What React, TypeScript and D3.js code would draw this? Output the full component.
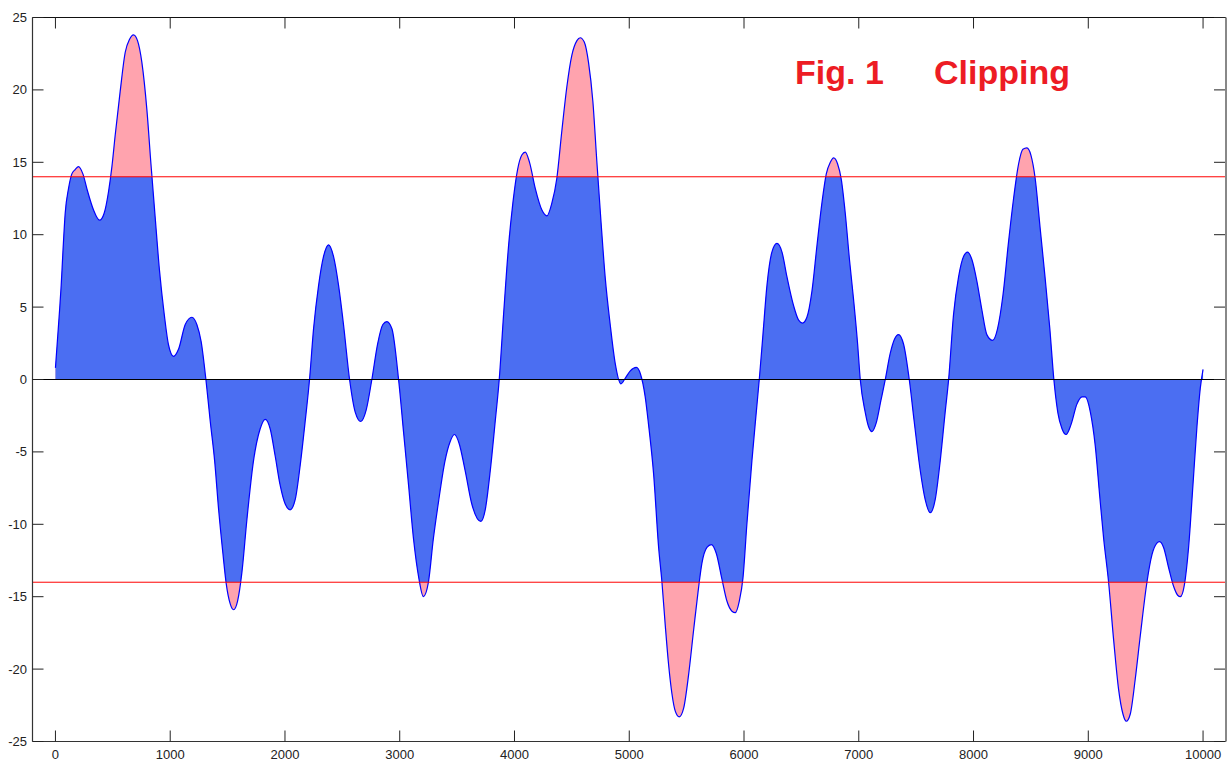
import React from "react";
import * as d3 from "d3";

// Sample positions and signal values of the waveform
const sampleX = [
  0, 18, 36, 50, 65, 85, 114, 143, 172, 201, 239, 280, 332, 384, 425, 463, 492, 521, 564, 608,
  646, 680, 715, 753, 797, 832, 869, 907, 948, 985, 1029, 1073, 1131, 1189, 1232, 1270, 1311,
  1349, 1387, 1422, 1459, 1488, 1523, 1552, 1587, 1625, 1668, 1726, 1784, 1828, 1871, 1915,
  1958, 2002, 2045, 2089, 2133, 2176, 2214, 2249, 2293, 2336, 2380, 2423, 2467, 2510, 2563,
  2612, 2661, 2708, 2757, 2807, 2853, 2888, 2932, 2990, 3033, 3077, 3120, 3166, 3206, 3250,
  3293, 3337, 3395, 3439, 3476, 3517, 3570, 3628, 3707, 3745, 3789, 3832, 3867, 3905, 3948,
  3986, 4027, 4064, 4094, 4131, 4181, 4239, 4282, 4326, 4369, 4413, 4456, 4500, 4544, 4573,
  4608, 4645, 4683, 4718, 4753, 4791, 4834, 4878, 4928, 4966, 5009, 5062, 5097, 5139, 5168,
  5212, 5256, 5285, 5314, 5343, 5372, 5401, 5436, 5474, 5517, 5561, 5599, 5633, 5677, 5715,
  5758, 5808, 5851, 5895, 5924, 5959, 5991, 6025, 6069, 6107, 6133, 6165, 6200, 6243, 6287,
  6331, 6374, 6432, 6476, 6510, 6548, 6592, 6635, 6679, 6717, 6752, 6781, 6815, 6848, 6882,
  6920, 6955, 6990, 7013, 7056, 7085, 7114, 7152, 7193, 7231, 7274, 7312, 7346, 7390, 7440,
  7483, 7536, 7579, 7623, 7666, 7710, 7753, 7783, 7826, 7870, 7913, 7948, 7985, 8029, 8073,
  8116, 8166, 8209, 8256, 8305, 8349, 8393, 8430, 8465, 8500, 8537, 8580, 8624, 8665, 8700,
  8735, 8771, 8806, 8850, 8901, 8945, 8974, 9018, 9061, 9099, 9134, 9177, 9221, 9264, 9302,
  9331, 9366, 9409, 9453, 9511, 9555, 9598, 9621, 9656, 9700, 9744, 9779, 9802, 9837, 9874,
  9912, 9947, 9976, 10000,
];

const sampleY = [
  0.8, 2.8, 4.8, 6.5, 8.8, 11.5, 13.2, 14.2, 14.5, 14.7, 14.2, 13.0, 11.7, 11.0, 11.5, 13.0, 14.7, 16.9, 19.9, 22.6,
  23.5, 23.8, 23.4, 21.9, 18.6, 14.9, 11.2, 7.5, 4.5, 2.4, 1.6, 2.1, 3.8, 4.3, 3.8, 2.6, 0,
  -2.9, -5.6, -9.0, -12.0, -14.1, -15.5, -15.9, -15.3, -13.3, -9.7, -5.6, -3.4, -2.75, -3.4, -5.3,
  -7.3, -8.6, -9.0, -8.3, -5.9, -2.9, 0, 3.5, 6.5, 8.5, 9.3, 8.5, 6.5, 3.8, 0,
  -2.25, -2.9, -2.1, 0, 2.45, 3.8, 4.0, 3.5, 0, -3.6, -7.3, -11.0, -13.7, -15.0, -14.0,
  -11.0, -8.5, -5.6, -4.3, -3.8, -4.4, -6.3, -8.6, -9.8, -9.0, -6.3, -2.9, 0, 4.5, 9.2,
  12.2, 14.5, 15.5, 15.7, 15.0, 13.2, 11.7, 11.3, 12.2, 13.9, 17.2, 20.2, 22.4, 23.4, 23.6,
  23.3, 21.9, 19.2, 15.0, 11.0, 7.0, 3.8, 1.1, -0.3, 0.1, 0.6, 0.84, 0.4, -1.2, -3.1,
  -6.5, -11.6, -14.0, -17.0, -19.7, -21.7, -22.9, -23.3, -22.7, -20.4, -17.3, -14.7, -12.7, -11.6, -11.4,
  -12.0, -13.8, -15.3, -16.0, -16.1, -15.3, -13.7, -10.0, -5.6, -2.25, 0, 3.1, 6.5, 8.8, 9.4,
  8.8, 7.1, 5.1, 4.1, 3.9, 4.3, 6.1, 9.2, 12.2, 14.2, 15.0, 15.3, 14.9, 13.8, 11.5,
  8.2, 5.5, 2.45, 0, -2.25, -3.25, -3.6, -3.0, -1.45, 0, 1.8, 2.8, 3.1, 2.45, 0,
  -2.9, -6.3, -8.3, -9.2, -8.3, -5.6, -2.25, 0, 4.5, 7.1, 8.5, 8.8, 8.3, 6.8, 4.8,
  3.1, 2.7, 3.5, 5.8, 9.5, 12.5, 14.9, 15.9, 16.0, 15.5, 13.9, 10.5, 7.0, 3.5, 0,
  -2.3, -3.4, -3.8, -3.1, -1.7, -1.2, -1.2, -2.25, -4.6, -8.0, -11.0, -14.0, -18.0, -21.4, -23.1,
  -23.6, -23.1, -20.7, -17.7, -14.0, -12.1, -11.3, -11.2, -11.6, -13.0, -14.3, -14.9, -15.0, -14.2, -11.6,
  -7.3, -3.25, -0.6, 0.7,
];

const clipLevel = 14;
const xTicks = [0, 1000, 2000, 3000, 4000, 5000, 6000, 7000, 8000, 9000, 10000];
const yTicks = [-25, -20, -15, -10, -5, 0, 5, 10, 15, 20, 25];
const titleParts = ["Fig. 1", "Clipping"];

const W = 1230;
const H = 761;
const plot = { left: 32.5, right: 1226, top: 17.5, bottom: 741.5 };

export default function App() {
  const x = d3.scaleLinear().domain([-200, 10200]).range([plot.left, plot.right]);
  const y = d3.scaleLinear().domain([-25, 25]).range([plot.bottom, plot.top]);
  const points: [number, number][] = sampleX.map((v, i) => [v, sampleY[i]]);
  const curve = d3.curveMonotoneX;

  const area = d3
    .area<[number, number]>()
    .x((d) => x(d[0]))
    .y0(y(0))
    .y1((d) => y(d[1]))
    .curve(curve);
  const line = d3
    .line<[number, number]>()
    .x((d) => x(d[0]))
    .y((d) => y(d[1]))
    .curve(curve);

  const areaPath = area(points) || "";
  const linePath = line(points) || "";
  const tickLen = 11;
  const font = "'Liberation Sans', Arial, sans-serif";

  return (
    <svg
      width={W}
      height={H}
      style={{ position: "absolute", left: 0, top: 0, background: "#fff" }}
    >
      <defs>
        <clipPath id="inside-band">
          <rect
            x={plot.left}
            y={y(clipLevel)}
            width={plot.right - plot.left}
            height={y(-clipLevel) - y(clipLevel)}
          />
        </clipPath>
      </defs>

      {/* portions beyond the clip level */}
      <path d={areaPath} fill="#FFA3AE" stroke="none" />
      {/* portion within the clip band */}
      <path d={areaPath} fill="#4B6EF2" stroke="none" clipPath="url(#inside-band)" />
      <path d={linePath} fill="none" stroke="#0000FF" strokeWidth={1.2} />

      {/* clip thresholds and zero line */}
      {[clipLevel, -clipLevel].map((v) => (
        <line key={v} x1={plot.left} x2={plot.right} y1={y(v)} y2={y(v)} stroke="#FF0000" strokeWidth={1} />
      ))}
      <line x1={plot.left} x2={plot.right} y1={y(0)} y2={y(0)} stroke="#000" strokeWidth={1} />

      {/* frame */}
      <line x1={plot.left} x2={plot.right} y1={plot.top} y2={plot.top} stroke="#111" strokeWidth={1.2} />
      <line x1={plot.left} x2={plot.right} y1={plot.bottom} y2={plot.bottom} stroke="#333" strokeWidth={1.2} />
      <line x1={plot.left} x2={plot.left} y1={plot.top} y2={plot.bottom} stroke="#333" strokeWidth={1.2} />
      <line x1={plot.right} x2={plot.right} y1={plot.top} y2={plot.bottom} stroke="#888" strokeWidth={2} />

      {/* x ticks */}
      {xTicks.map((t) => (
        <g key={"x" + t}>
          <line x1={x(t)} x2={x(t)} y1={plot.bottom} y2={plot.bottom - tickLen} stroke="#222" />
          <line x1={x(t)} x2={x(t)} y1={plot.top} y2={plot.top + tickLen} stroke="#222" />
          <text x={x(t)} y={759} textAnchor="middle" fontFamily={font} fontSize={13} fill="#222">
            {t}
          </text>
        </g>
      ))}

      {/* y ticks */}
      {yTicks.map((t) => (
        <g key={"y" + t}>
          <line x1={plot.left} x2={plot.left + tickLen} y1={y(t)} y2={y(t)} stroke="#222" />
          <line x1={plot.right - 1} x2={plot.right - 1 - tickLen} y1={y(t)} y2={y(t)} stroke="#222" />
          <text x={27} y={y(t) + 4.5} textAnchor="end" fontFamily={font} fontSize={13} fill="#222">
            {t}
          </text>
        </g>
      ))}

      {/* title */}
      <text x={795} y={84} fontFamily={font} fontWeight="bold" fontSize={34} fill="#ED1C24">
        {titleParts[0]}
      </text>
      <text x={934} y={84} fontFamily={font} fontWeight="bold" fontSize={34} fill="#ED1C24">
        {titleParts[1]}
      </text>
    </svg>
  );
}
